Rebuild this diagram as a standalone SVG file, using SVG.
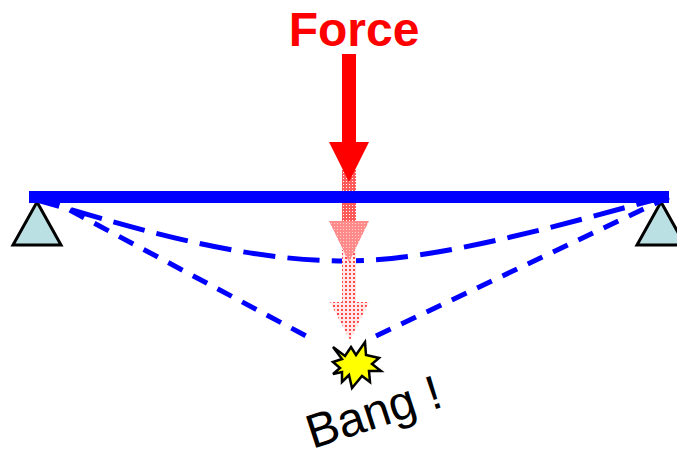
<svg xmlns="http://www.w3.org/2000/svg" width="677" height="449" viewBox="0 0 677 449">
<style>
text{font-family:"Liberation Sans",Arial,sans-serif}
.sup{fill:#bbe0e3;stroke:#000;stroke-width:3;stroke-linejoin:miter}
.curve{fill:none;stroke:#00f;stroke-width:5;stroke-dasharray:32.2 12.2;stroke-dashoffset:9}
.line{fill:none;stroke:#00f;stroke-width:5}
</style>
<defs>
<pattern id="p1" width="3" height="3" patternUnits="userSpaceOnUse"><rect width="3" height="3" fill="#ff5a5a"/><rect x="1" y="1" width="1" height="1" fill="#fff"/></pattern>
<pattern id="p1b" width="3" height="3" patternUnits="userSpaceOnUse"><rect width="3" height="3" fill="#ff8a8a"/><rect x="1" y="1" width="1" height="1" fill="#ffd0d0"/></pattern>
<pattern id="p2" width="4" height="4" patternUnits="userSpaceOnUse"><rect width="4" height="4" fill="#ffe8e8"/><rect x="1" y="1" width="2" height="2" fill="#ff4848"/></pattern>
</defs>
<g id="support-left"><path class="sup" d="M37 202L61 245H13Z"/></g>
<g id="support-right"><path class="sup" d="M661 202L685 245H637Z"/></g>
<g id="connectors">
<path class="curve" d="M37 200C110 220 230 261 345 261C440 261 570 222 661 198"/>
<path class="line" stroke-dasharray="16.2 11.7" d="M45.1 197L306.7 336.3"/>
<path class="line" stroke-dasharray="16.2 11.8" d="M376 336L668.7 197"/>
</g>
<g id="ghost-arrow-2"><path fill="url(#p2)" d="M342 250H356V302H369L350 340L330 302H342Z"/></g>
<g id="ghost-arrow-1"><path fill="url(#p1)" d="M342 170H356V222H342Z"/><path fill="url(#p1b)" d="M329 221H369L349 262Z"/></g>
<g id="beam"><rect x="29" y="191" width="640" height="12" fill="#00f"/></g>
<g id="force-arrow"><path fill="#f00" d="M342 54H356V142H369L349 182L329 142H342Z"/></g>
<g id="force-label"><text x="354" y="46" font-size="48" font-weight="700" fill="#f00" text-anchor="middle">Force</text></g>
<g id="burst"><path fill="#ff0" stroke="#000" stroke-width="2.5" d="M333 347L345 356L351 347L356 355L365 342L366 355L379 358L372 364L381 371L369 371L370 382L362 376L352 388L349 375L342 382L342 372L333 374L340 368L333 362L342 359Z"/></g>
<g id="bang-label"><text transform="translate(312.6 449) rotate(-18)" font-size="48" fill="#000">Bang !</text></g>
</svg>
